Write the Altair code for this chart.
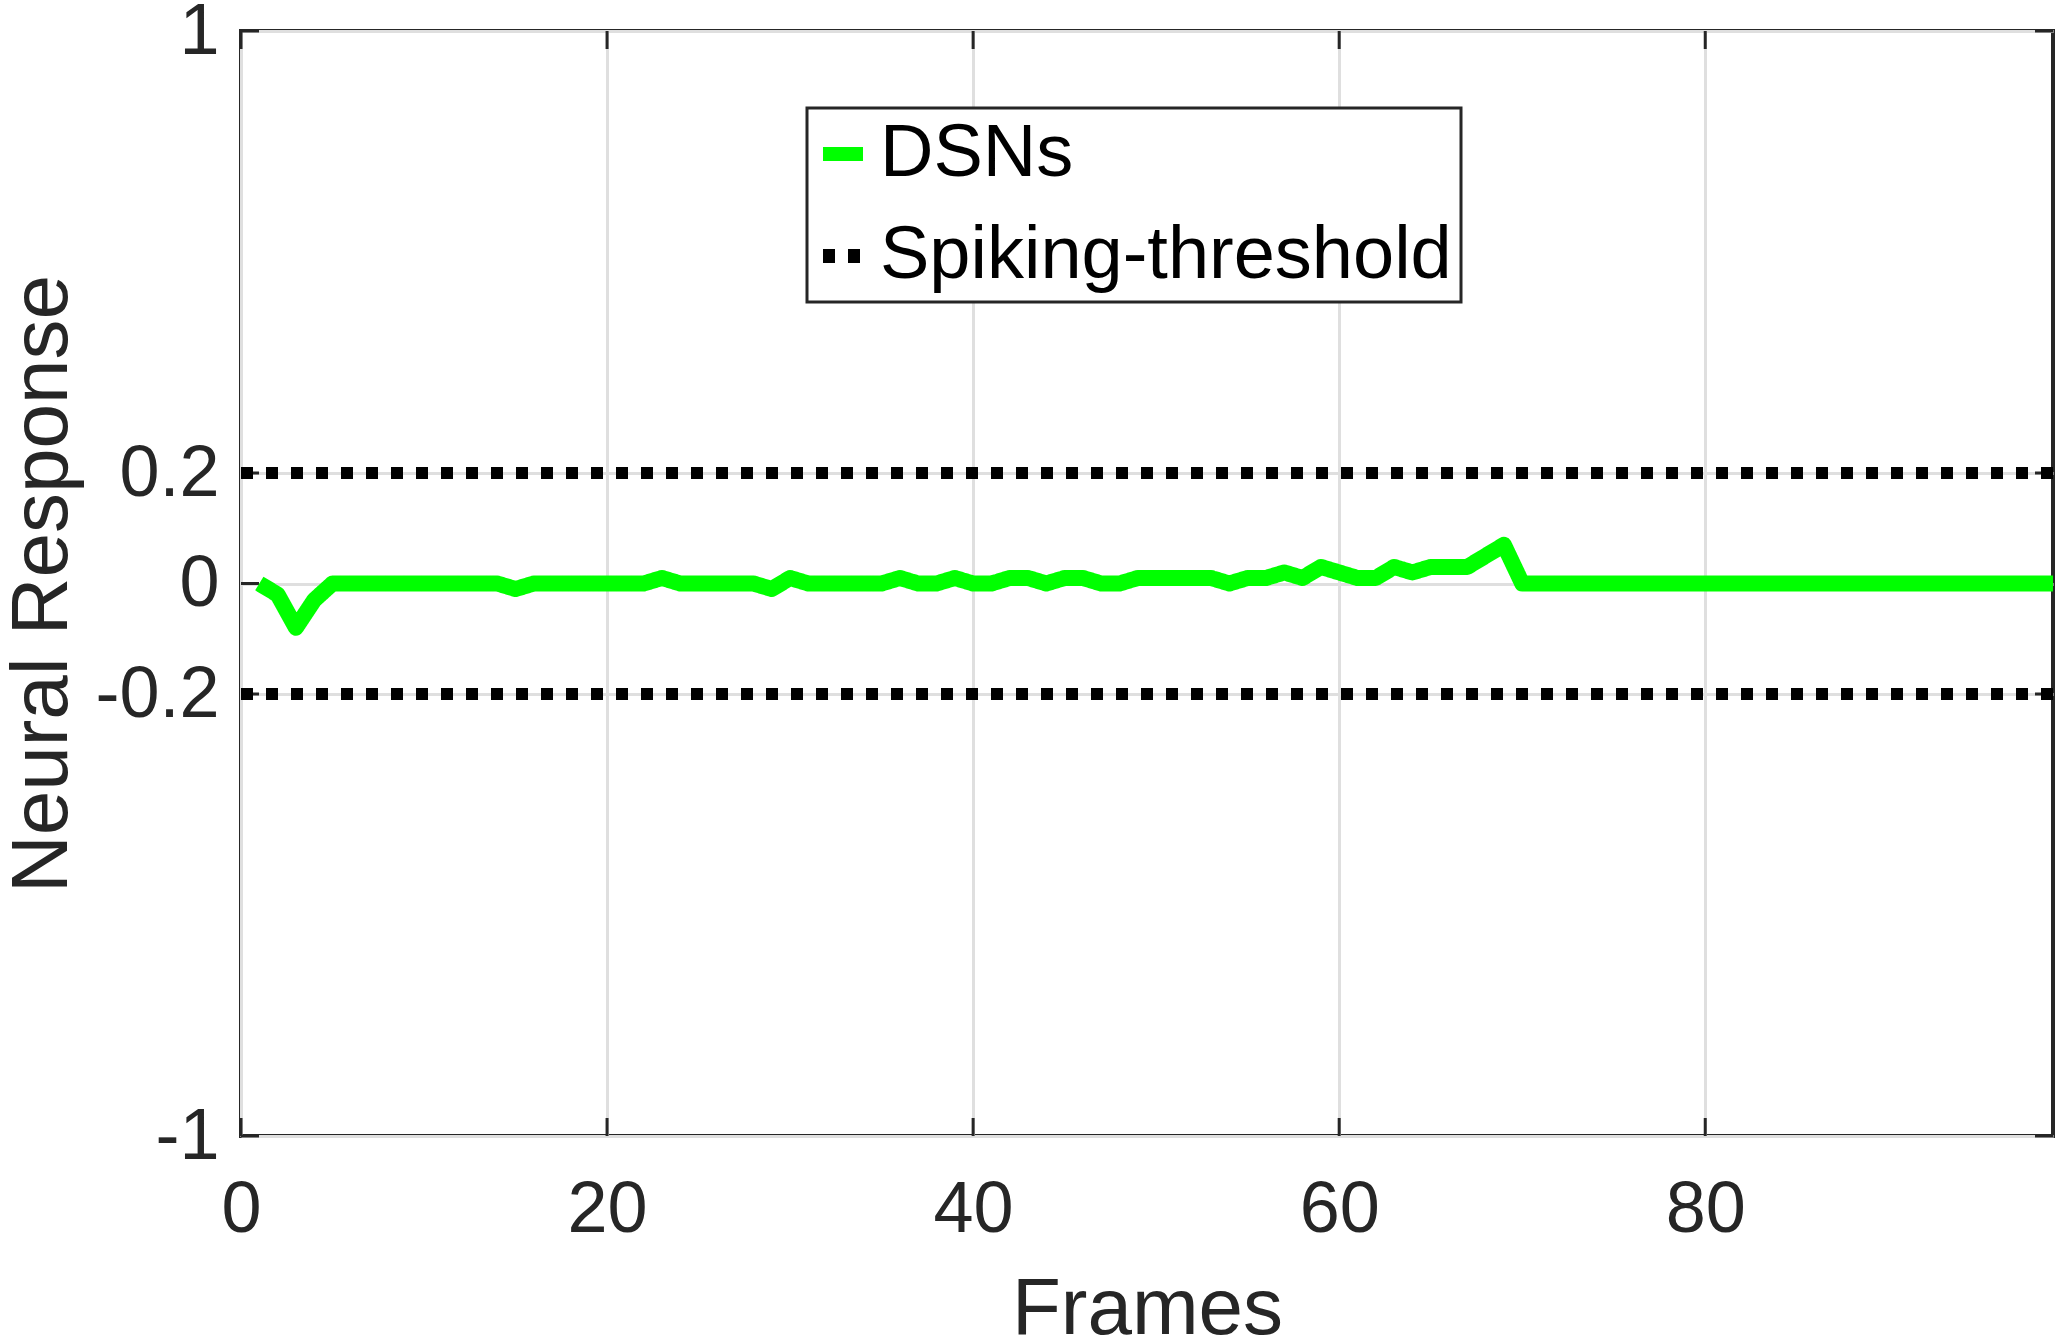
import altair as alt
import pandas as pd

# ---- data ----
frames = list(range(1, 100))
dsn_values = (
    [0.0, -0.02, -0.08, -0.03]            # 1-4
    + [0.0] * 10                           # 5-14
    + [-0.01]                              # 15
    + [0.0] * 7                            # 16-22
    + [0.01]                               # 23
    + [0.0] * 5                            # 24-28
    + [-0.01, 0.01]                        # 29-30
    + [0.0] * 5                            # 31-35
    + [0.01, 0.0, 0.0, 0.01, 0.0, 0.0]     # 36-41
    + [0.01, 0.01, 0.0, 0.01, 0.01, 0.0, 0.0]  # 42-48
    + [0.01] * 5                           # 49-53
    + [0.0, 0.01, 0.01, 0.02, 0.01, 0.03, 0.02, 0.01, 0.01]  # 54-62
    + [0.03, 0.02, 0.03, 0.03, 0.03, 0.05, 0.07]             # 63-69
    + [0.0] * 30                           # 70-99
)
threshold_x = [0, 99]
threshold_levels = [0.2, -0.2]
x_ticks = [0, 20, 40, 60, 80]
y_ticks = [-1, -0.2, 0, 0.2, 1]
series_names = ["DSNs", "Spiking-threshold"]

W, H = 1812, 1105
FONT = "Liberation Sans"
AX = "#262626"

rows = [{"frame": f, "value": v, "series": "DSNs", "grp": "dsn"}
        for f, v in zip(frames, dsn_values)]
for lvl in threshold_levels:
    for xx in threshold_x:
        rows.append({"frame": xx, "value": lvl, "series": "Spiking-threshold",
                     "grp": "thr%s" % lvl})
df = pd.DataFrame(rows)

xscale = alt.Scale(domain=[0, 99], nice=False, zero=False)
yscale = alt.Scale(domain=[-1, 1], nice=False, zero=False)

x_axis = alt.Axis(values=x_ticks, title="Frames", grid=True, ticks=False, tickSize=0,
                  domain=False, labelPadding=38, labelFontSize=72, labelFont=FONT,
                  labelColor=AX, titleFontSize=80, titleFont=FONT, titleColor=AX,
                  titleFontWeight="normal", titleY=197, titleBaseline="alphabetic",
                  gridColor="#dfdfdf", gridWidth=3, labelFlush=False)
y_axis = alt.Axis(values=y_ticks, title="Neural Response", grid=True, ticks=False,
                  tickSize=0, domain=False, labelPadding=22, labelFontSize=72,
                  labelFont=FONT, labelColor=AX, labelExpr="toString(datum.value)",
                  titleFontSize=80, titleFont=FONT, titleColor=AX,
                  titleFontWeight="normal", titleX=-175, titleY=H / 2,
                  titleBaseline="alphabetic", titleAngle=270,
                  gridColor="#dfdfdf", gridWidth=3, labelFlush=False)

legend_common = dict(title=None, orient="none", legendX=566, legendY=77)

lines = alt.Chart(df).mark_line(strokeCap="butt", strokeJoin="round", clip=True).encode(
    x=alt.X("frame:Q", scale=xscale, axis=x_axis),
    y=alt.Y("value:Q", scale=yscale, axis=y_axis),
    detail="grp:N",
    color=alt.Color("series:N",
                    scale=alt.Scale(domain=series_names, range=["#00ff00", "#000000"]),
                    legend=alt.Legend(symbolType="stroke", symbolSize=1600,
                                      symbolStrokeWidth=14, symbolOffset=-10,
                                      labelFontSize=74, labelFont=FONT,
                                      labelColor="black", labelLimit=0,
                                      labelOffset=0, rowPadding=28, padding=9,
                                      strokeColor=AX, fillColor="white",
                                      **legend_common)),
    strokeDash=alt.StrokeDash("series:N",
                              scale=alt.Scale(domain=series_names, range=[[1, 0], [12, 13]]),
                              legend=alt.Legend(**legend_common)),
    strokeWidth=alt.condition(alt.datum.series == "DSNs", alt.value(16), alt.value(12)),
)

xt = pd.DataFrame({"frame": x_ticks})
yt = pd.DataFrame({"value": y_ticks})
TL = 18
tick_bottom = alt.Chart(xt).mark_rule(color=AX, strokeWidth=3).encode(
    x=alt.X("frame:Q", scale=xscale), y=alt.value(H), y2=alt.value(H - TL))
tick_top = alt.Chart(xt).mark_rule(color=AX, strokeWidth=3).encode(
    x=alt.X("frame:Q", scale=xscale), y=alt.value(0), y2=alt.value(TL))
tick_left = alt.Chart(yt).mark_rule(color=AX, strokeWidth=3).encode(
    y=alt.Y("value:Q", scale=yscale), x=alt.value(0), x2=alt.value(TL))
tick_right = alt.Chart(yt).mark_rule(color=AX, strokeWidth=3).encode(
    y=alt.Y("value:Q", scale=yscale), x=alt.value(W), x2=alt.value(W - TL))

chart = alt.layer(tick_bottom, tick_top, tick_left, tick_right, lines).properties(
    width=W, height=H,
    autosize=alt.AutoSizeParams(type="none"),
    padding={"left": 241, "top": 31, "right": 12, "bottom": 208},
    background="white",
).configure_view(
    stroke=AX, strokeWidth=4
).configure_legend(
    strokeWidth=3
)

chart.save("out.html", embed_options={"renderer": "svg", "actions": False})
